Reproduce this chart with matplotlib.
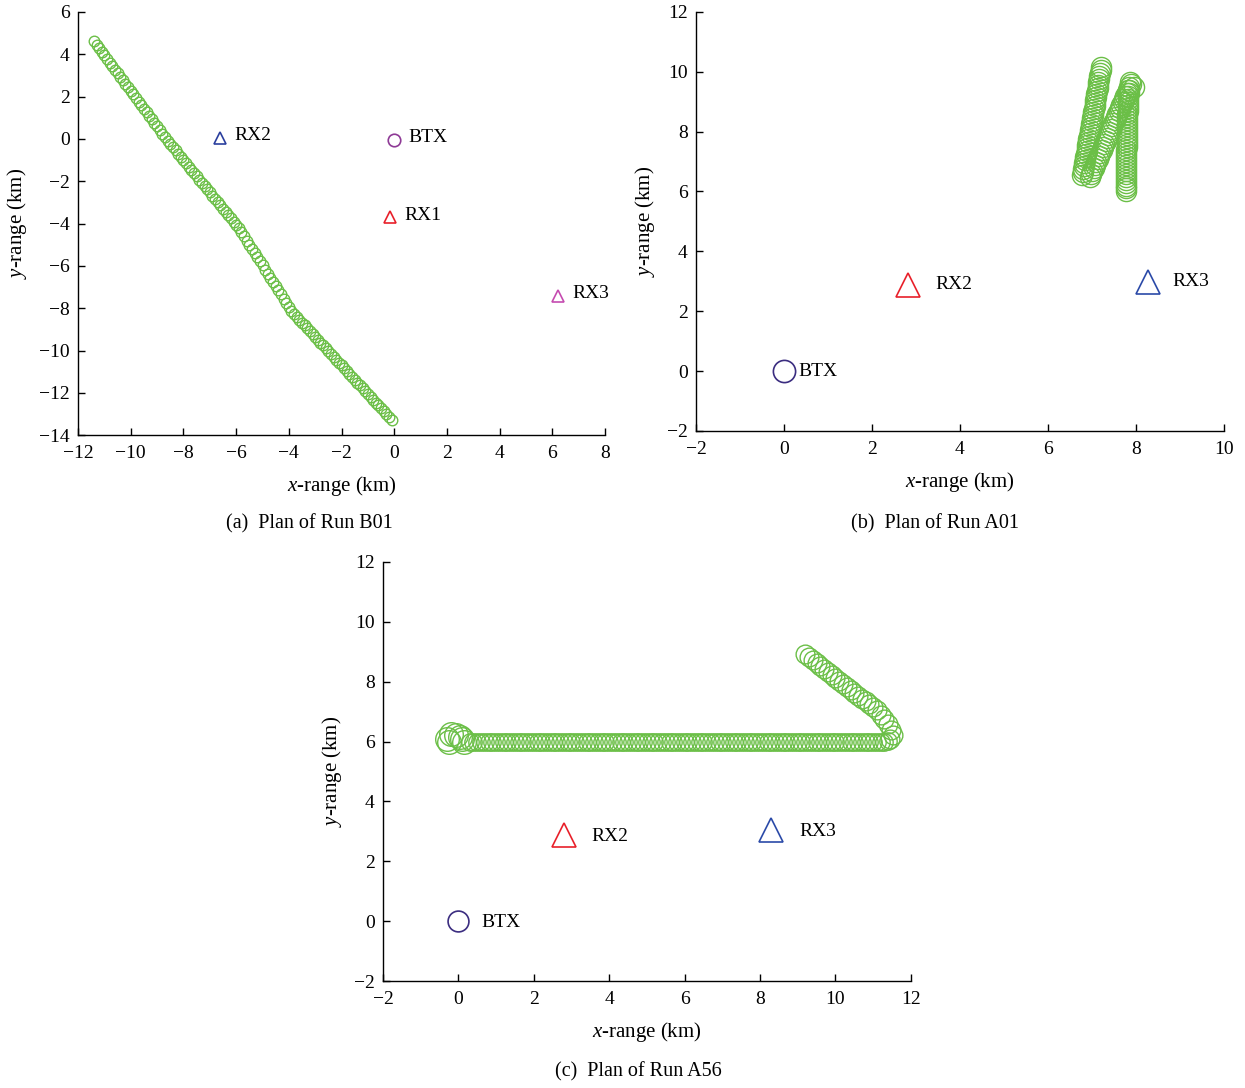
import matplotlib.pyplot as plt

plt.rcParams['font.family'] = 'Liberation Serif'
plt.rcParams['mathtext.fontset'] = 'custom'
plt.rcParams['mathtext.rm'] = 'Liberation Serif'
plt.rcParams['mathtext.it'] = 'Liberation Serif:italic'

GREEN = '#6bbf47'

# ---- Run B01 track (km) ----
b01_x = [-11.4, -11.3, -11.2, -11.1, -11.0, -10.9, -10.8, -10.7, -10.6, -10.5,
         -10.4, -10.3, -10.2, -10.1, -10.0, -9.9, -9.8, -9.7, -9.6, -9.5,
         -9.4, -9.3, -9.2, -9.1, -9.0, -8.9, -8.8, -8.7, -8.6, -8.5,
         -8.4, -8.3, -8.2, -8.1, -8.0, -7.9, -7.8, -7.7, -7.6, -7.5,
         -7.4, -7.3, -7.2, -7.1, -7.0, -6.9, -6.8, -6.7, -6.6, -6.5,
         -6.4, -6.3, -6.2, -6.1, -6.0, -5.9, -5.8, -5.7, -5.6, -5.5,
         -5.4, -5.3, -5.2, -5.1, -5.0, -4.9, -4.8, -4.7, -4.6, -4.5,
         -4.4, -4.3, -4.2, -4.1, -4.0, -3.9, -3.8, -3.7, -3.6, -3.5,
         -3.4, -3.3, -3.2, -3.1, -3.0, -2.9, -2.8, -2.7, -2.6, -2.5,
         -2.4, -2.3, -2.2, -2.1, -2.0, -1.9, -1.8, -1.7, -1.6, -1.5,
         -1.4, -1.3, -1.2, -1.1, -1.0, -0.9, -0.8, -0.7, -0.6, -0.5,
         -0.4, -0.3, -0.2, -0.1]
b01_y = [4.62, 4.45, 4.28, 4.12, 3.95, 3.78, 3.61, 3.44, 3.28, 3.11,
         2.94, 2.77, 2.60, 2.44, 2.27, 2.10, 1.93, 1.76, 1.60, 1.43,
         1.26, 1.09, 0.92, 0.76, 0.59, 0.42, 0.25, 0.08, -0.08, -0.24,
         -0.39, -0.54, -0.70, -0.85, -1.00, -1.16, -1.31, -1.46, -1.61, -1.77,
         -1.92, -2.07, -2.23, -2.38, -2.53, -2.68, -2.84, -2.99, -3.14, -3.30,
         -3.45, -3.60, -3.75, -3.91, -4.06, -4.22, -4.41, -4.61, -4.80, -5.00,
         -5.20, -5.39, -5.59, -5.79, -5.98, -6.18, -6.37, -6.57, -6.77, -6.96,
         -7.16, -7.35, -7.55, -7.75, -7.94, -8.14, -8.27, -8.41, -8.54, -8.68,
         -8.81, -8.95, -9.08, -9.22, -9.35, -9.49, -9.62, -9.76, -9.89, -10.03,
         -10.16, -10.30, -10.43, -10.57, -10.70, -10.84, -10.97, -11.11, -11.24, -11.38,
         -11.51, -11.65, -11.78, -11.92, -12.05, -12.19, -12.32, -12.46, -12.59, -12.73,
         -12.86, -13.00, -13.13, -13.27]

b01_sites = ['RX2', 'BTX', 'RX1', 'RX3']
b01_site_x = [-6.6, 0.0, -0.15, 6.2]
b01_site_y = [0.05, -0.05, -3.7, -7.4]

# ---- Run A01 track (km) ----
a01_x = [6.78, 6.79, 6.80, 6.82, 6.83, 6.84, 6.85, 6.86, 6.88, 6.89,
         6.90, 6.91, 6.92, 6.94, 6.95, 6.96, 6.97, 6.98, 7.00, 7.01,
         7.02, 7.03, 7.04, 7.06, 7.07, 7.08, 7.09, 7.10, 7.11, 7.13,
         7.14, 7.15, 7.16, 7.17, 7.19, 7.20, 7.21,
         6.95, 6.98, 7.01, 7.04, 7.07, 7.10, 7.13, 7.16, 7.19, 7.22,
         7.25, 7.28, 7.31, 7.34, 7.37, 7.40, 7.43, 7.46, 7.49, 7.52,
         7.55, 7.58, 7.61, 7.64, 7.67, 7.70, 7.73, 7.76, 7.79, 7.82, 7.85,
         7.90, 7.95, 7.86,
         7.84, 7.84, 7.83, 7.83, 7.83, 7.82, 7.82, 7.82, 7.81, 7.81,
         7.81, 7.80, 7.80, 7.80, 7.80, 7.79, 7.79, 7.79, 7.79, 7.79,
         7.78, 7.78, 7.78, 7.78, 7.78, 7.78, 7.77, 7.77, 7.77, 7.77,
         7.77, 7.77, 7.77, 7.77, 7.77]
a01_y = [6.55, 6.65, 6.75, 6.85, 6.95, 7.05, 7.15, 7.25, 7.35, 7.45,
         7.55, 7.65, 7.75, 7.85, 7.95, 8.05, 8.15, 8.25, 8.35, 8.45,
         8.55, 8.65, 8.75, 8.85, 8.95, 9.05, 9.15, 9.25, 9.35, 9.45,
         9.55, 9.65, 9.75, 9.85, 9.95, 10.05, 10.15,
         6.50, 6.60, 6.70, 6.80, 6.90, 7.00, 7.10, 7.20, 7.30, 7.40,
         7.50, 7.60, 7.70, 7.80, 7.90, 8.00, 8.10, 8.20, 8.30, 8.40,
         8.50, 8.60, 8.70, 8.80, 8.90, 9.00, 9.10, 9.20, 9.30, 9.40, 9.50,
         9.60, 9.50, 9.65,
         9.40, 9.30, 9.20, 9.10, 9.00, 8.90, 8.80, 8.70, 8.60, 8.50,
         8.40, 8.30, 8.20, 8.10, 8.00, 7.90, 7.80, 7.70, 7.60, 7.50,
         7.40, 7.30, 7.20, 7.10, 7.00, 6.90, 6.80, 6.70, 6.60, 6.50,
         6.40, 6.30, 6.20, 6.10, 6.00]

a_sites = ['BTX', 'RX2', 'RX3']
a01_site_x = [0.0, 2.82, 8.27]
a01_site_y = [0.0, 2.88, 2.99]

# ---- Run A56 track (km) ----
# loop at the start
a56_start_x = [-0.30, -0.20, -0.05, 0.10, -0.25, 0.05, 0.15]
a56_start_y = [6.10, 6.25, 6.22, 6.08, 6.00, 6.15, 6.00]
# eastbound leg
a56_x = [0.3, 0.4, 0.5, 0.6, 0.7, 0.8, 0.9, 1.0, 1.1, 1.2,
         1.3, 1.4, 1.5, 1.6, 1.7, 1.8, 1.9, 2.0, 2.1, 2.2,
         2.3, 2.4, 2.5, 2.6, 2.7, 2.8, 2.9, 3.0, 3.1, 3.2,
         3.3, 3.4, 3.5, 3.6, 3.7, 3.8, 3.9, 4.0, 4.1, 4.2,
         4.3, 4.4, 4.5, 4.6, 4.7, 4.8, 4.9, 5.0, 5.1, 5.2,
         5.3, 5.4, 5.5, 5.6, 5.7, 5.8, 5.9, 6.0, 6.1, 6.2,
         6.3, 6.4, 6.5, 6.6, 6.7, 6.8, 6.9, 7.0, 7.1, 7.2,
         7.3, 7.4, 7.5, 7.6, 7.7, 7.8, 7.9, 8.0, 8.1, 8.2,
         8.3, 8.4, 8.5, 8.6, 8.7, 8.8, 8.9, 9.0, 9.1, 9.2,
         9.3, 9.4, 9.5, 9.6, 9.7, 9.8, 9.9, 10.0, 10.1, 10.2,
         10.3, 10.4, 10.5, 10.6, 10.7, 10.8, 10.9, 11.0, 11.1, 11.2,
         11.3, 11.4]
a56_y = [6.00, 6.00, 6.00, 6.00, 6.00, 6.00, 6.00, 6.00, 6.00, 6.00,
         6.00, 6.00, 6.00, 6.00, 6.00, 6.00, 6.00, 6.00, 6.00, 6.00,
         6.00, 6.00, 6.00, 6.00, 6.00, 6.00, 6.00, 6.00, 6.00, 6.00,
         6.00, 6.00, 6.00, 6.00, 6.00, 6.00, 6.00, 6.00, 6.00, 6.00,
         6.00, 6.00, 6.00, 6.00, 6.00, 6.00, 6.00, 6.00, 6.00, 6.00,
         6.00, 6.00, 6.00, 6.00, 6.00, 6.00, 6.00, 6.00, 6.00, 6.00,
         6.00, 6.00, 6.00, 6.00, 6.00, 6.00, 6.00, 6.00, 6.00, 6.00,
         6.00, 6.00, 6.00, 6.00, 6.00, 6.00, 6.00, 6.00, 6.00, 6.00,
         6.00, 6.00, 6.00, 6.00, 6.00, 6.00, 6.00, 6.00, 6.00, 6.00,
         6.00, 6.00, 6.00, 6.00, 6.00, 6.00, 6.00, 6.00, 6.00, 6.00,
         6.00, 6.00, 6.00, 6.00, 6.00, 6.00, 6.00, 6.00, 6.00, 6.00,
         6.00, 6.02]
# turn and north-westbound leg
a56_turn_x = [11.45, 11.52, 11.48, 11.40, 11.30, 11.20, 11.10, 11.00, 10.90, 10.80,
              10.70, 10.60, 10.50, 10.40, 10.30, 10.20, 10.10, 10.00, 9.90, 9.80,
              9.70, 9.60, 9.50, 9.40, 9.30, 9.20]
a56_turn_y = [6.08, 6.22, 6.40, 6.58, 6.75, 6.90, 7.04, 7.14, 7.24, 7.34,
              7.43, 7.53, 7.63, 7.72, 7.82, 7.92, 8.02, 8.12, 8.22, 8.32,
              8.42, 8.52, 8.63, 8.73, 8.83, 8.93]

a56_site_x = [0.0, 2.81, 8.28]
a56_site_y = [0.0, 2.87, 3.03]


def style_axes(ax, xlim, ylim, xticks, yticks):
    ax.set_xlim(xlim)
    ax.set_ylim(ylim)
    ax.set_xticks(xticks)
    ax.set_yticks(yticks)
    for side in ['top', 'right']:
        ax.spines[side].set_visible(False)
    for side in ['left', 'bottom']:
        ax.spines[side].set_linewidth(1.0)
    ax.tick_params(direction='in', length=5, width=1, labelsize=14)
    ax.tick_params(axis='x', pad=7)
    ax.tick_params(axis='y', pad=6)
    ax.set_xlabel('$x$-range (km)', fontsize=15, labelpad=9)
    ax.set_ylabel('$y$-range (km)', fontsize=15, labelpad=7)


fig = plt.figure(figsize=(12.45, 10.88), dpi=100)

# (a) Run B01
ax1 = fig.add_axes([0.0627, 0.600, 0.4233, 0.389])
ax1.plot(b01_x, b01_y, 'o', ls='none', mfc='none', mec=GREEN, ms=7.6, mew=1.0)
site_styles_a = [('^', '#2b3f9e'), ('o', '#8e3a96'), ('^', '#e8202a'), ('^', '#c54bb0')]
for name, sx, sy, (m, c) in zip(b01_sites, b01_site_x, b01_site_y, site_styles_a):
    ax1.plot(sx, sy, m, ls='none', mfc='none', mec=c, ms=9, mew=1.2)
    ax1.text(sx + 0.55, sy + 0.1, name, fontsize=14, va='center', ha='left')
style_axes(ax1, (-12, 8), (-14, 6), range(-12, 9, 2), range(-14, 7, 2))

# (b) Run A01
ax2 = fig.add_axes([0.559, 0.604, 0.424, 0.385])
ax2.plot(a01_x, a01_y, 'o', ls='none', mfc='none', mec=GREEN, ms=14.5, mew=1.0)
site_styles_b = [('o', '#3b2d80', 16), ('^', '#e8202a', 17), ('^', '#2b4aa8', 17)]
label_dx_b = [0.32, 0.63, 0.55]
for name, sx, sy, (m, c, s), dx in zip(a_sites, a01_site_x, a01_site_y, site_styles_b, label_dx_b):
    ax2.plot(sx, sy, m, ls='none', mfc='none', mec=c, ms=s, mew=1.2)
    ax2.text(sx + dx, sy, name, fontsize=14, va='center', ha='left')
style_axes(ax2, (-2, 10), (-2, 12), range(-2, 11, 2), range(-2, 13, 2))

# (c) Run A56
ax3 = fig.add_axes([0.3076, 0.0983, 0.424, 0.3852])
ax3.plot(a56_start_x, a56_start_y, 'o', ls='none', mfc='none', mec=GREEN, ms=17, mew=1.0)
ax3.plot(a56_x, a56_y, 'o', ls='none', mfc='none', mec=GREEN, ms=12.5, mew=1.0)
ax3.plot(a56_turn_x, a56_turn_y, 'o', ls='none', mfc='none', mec=GREEN, ms=13.5, mew=1.0)
site_styles_c = [('o', '#3b2d80', 15), ('^', '#e8202a', 17), ('^', '#2b4aa8', 17)]
label_dx_c = [0.6, 0.72, 0.77]
for name, sx, sy, (m, c, s), dx in zip(a_sites, a56_site_x, a56_site_y, site_styles_c, label_dx_c):
    ax3.plot(sx, sy, m, ls='none', mfc='none', mec=c, ms=s, mew=1.2)
    ax3.text(sx + dx, sy - 0.05, name, fontsize=14, va='center', ha='left')
style_axes(ax3, (-2, 12), (-2, 12), range(-2, 13, 2), range(-2, 13, 2))

fig.text(309 / 1245, 1 - 524 / 1088, '(a)  Plan of Run B01', ha='center', va='center', fontsize=14.5)
fig.text(935 / 1245, 1 - 524 / 1088, '(b)  Plan of Run A01', ha='center', va='center', fontsize=14.5)
fig.text(638 / 1245, 1 - 1072 / 1088, '(c)  Plan of Run A56', ha='center', va='center', fontsize=14.5)

fig.savefig('out.png', dpi=100)
